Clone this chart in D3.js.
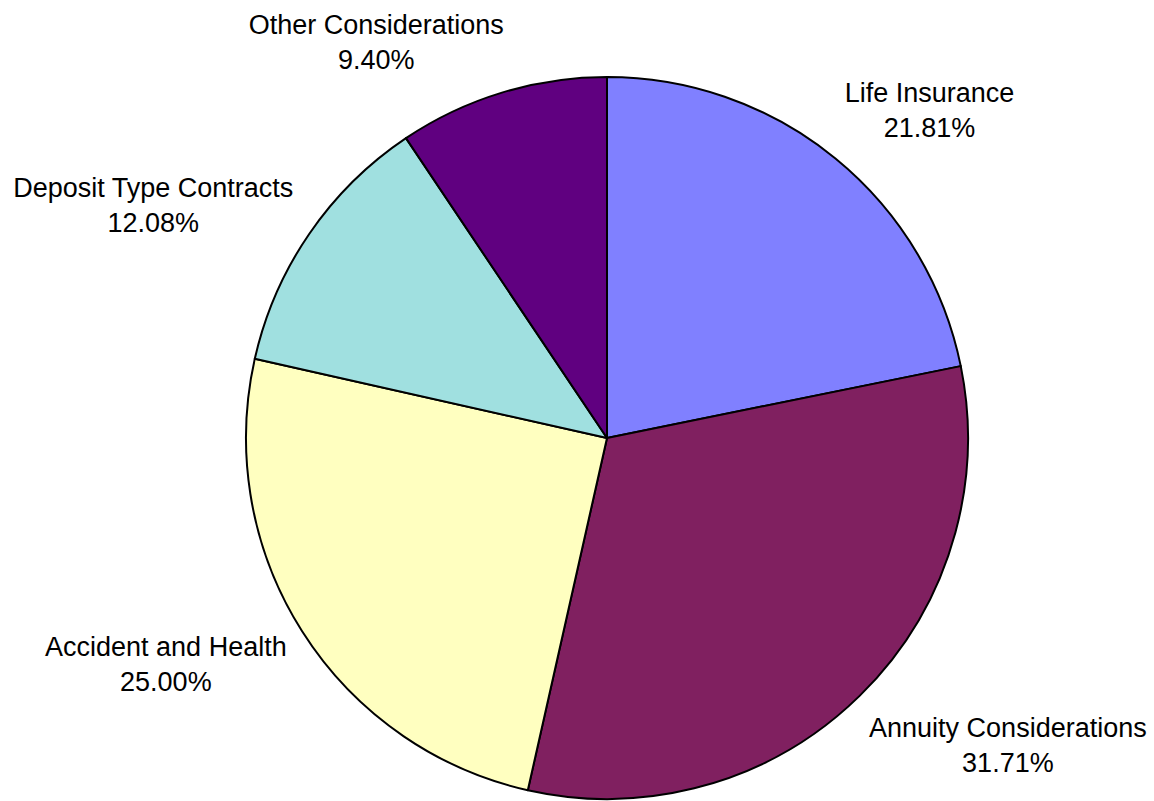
<!DOCTYPE html>
<html>
<head>
<meta charset="utf-8">
<script src="https://d3js.org/d3.v7.min.js"></script>
<style>
  body { margin: 0; background: #fff; }
</style>
</head>
<body>
<div id="chart"></div>
<script>
// chart data
var categories = ["Life Insurance", "Annuity Considerations", "Accident and Health", "Deposit Type Contracts", "Other Considerations"];
var shares = [21.81, 31.71, 25.00, 12.08, 9.40];
var colors = ["#8080ff", "#802060", "#ffffc0", "#a0e0e0", "#600080"];

// label nudges away from the outer centroid (layout only)
var labelNudge = [[25, 33], [72, -32], [-44, -28], [-66, 30], [-94, 51]];

function init() {
    var w = 1154;
    var h = 801;
    var cx = 607, cy = 438;
    var radius = 361;

    var svg = d3.select("#chart")
        .append("svg")
        .attr("width", w)
        .attr("height", h);

    var dataset = categories.map(function(c, i) {
        return { name: c, value: shares[i], color: colors[i], nudge: labelNudge[i] };
    });

    var pie = d3.pie()
        .sort(null)
        .value(function(d) { return d.value; });

    var arc = d3.arc()
        .innerRadius(0)
        .outerRadius(radius);

    var labelArc = d3.arc()
        .innerRadius(470)
        .outerRadius(470);

    var g = svg.append("g")
        .attr("transform", "translate(" + cx + "," + cy + ")");

    var arcs = pie(dataset);

    g.selectAll("path.slice")
        .data(arcs)
        .enter()
        .append("path")
        .attr("class", "slice")
        .attr("d", arc)
        .attr("fill", function(d) { return d.data.color; })
        .attr("stroke", "#000")
        .attr("stroke-width", 2)
        .attr("stroke-linejoin", "round");

    // labels: name + percentage
    var labels = g.selectAll("text.label")
        .data(arcs)
        .enter()
        .append("text")
        .attr("class", "label")
        .attr("text-anchor", "middle")
        .attr("font-family", "Liberation Sans, Arial, sans-serif")
        .attr("font-size", "27px")
        .attr("fill", "#000")
        .attr("transform", function(d) {
            var c = labelArc.centroid(d);
            return "translate(" + (c[0] + d.data.nudge[0]) + "," + (c[1] + d.data.nudge[1]) + ")";
        });

    labels.append("tspan")
        .attr("x", 0)
        .attr("y", -5)
        .text(function(d) { return d.data.name; });

    labels.append("tspan")
        .attr("x", 0)
        .attr("y", 30)
        .text(function(d) { return d.data.value.toFixed(2) + "%"; });
}
window.onload = init;
</script>
</body>
</html>
